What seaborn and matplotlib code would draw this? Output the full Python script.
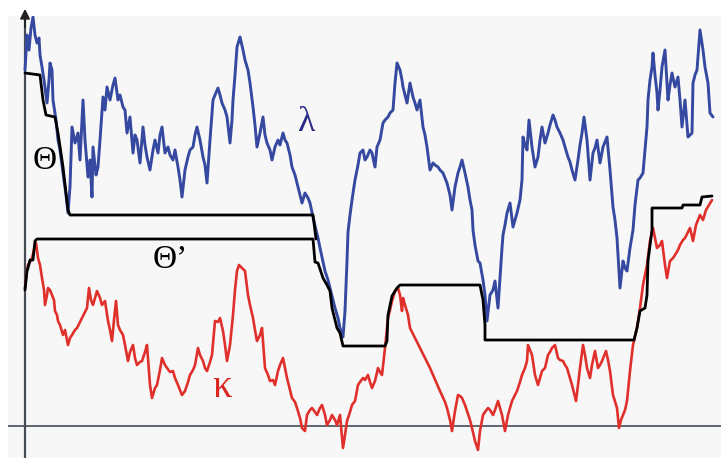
import numpy as np
import pandas as pd
import matplotlib
matplotlib.use('Agg')
import matplotlib.pyplot as plt
import seaborn as sns

# lambda path (x, level) -- level grows downward as in the sketch
lam_pts = [(25, 70), (27, 35), (29, 50), (31, 28), (33, 17), (35, 35), (37, 43), (39, 38), (40, 55), (42, 67),
           (44, 80), (47, 103), (49, 80), (50, 63), (52, 70), (53, 100), (56, 120), (58, 140), (60, 150), (63, 173),
           (66, 195), (68, 213), (70, 187), (72, 127), (75, 143), (78, 133), (80, 160), (83, 100), (85, 140), (88, 177),
           (90, 160), (92, 197), (93, 147), (96, 175), (98, 167), (100, 140), (103, 97), (105, 110), (107, 87), (110, 100),
           (113, 85), (115, 78), (118, 100), (120, 95), (123, 107), (125, 110), (127, 133), (130, 117), (133, 153), (135, 135),
           (137, 140), (140, 163), (143, 127), (145, 145), (147, 157), (150, 170), (153, 150), (155, 140), (158, 153), (160, 135),
           (162, 127), (165, 153), (168, 147), (170, 155), (173, 160), (175, 150), (178, 167), (180, 180), (182, 197), (185, 170),
           (188, 157), (190, 150), (193, 147), (195, 135), (197, 127), (200, 140), (203, 157), (205, 165), (207, 183), (210, 140),
           (213, 100), (215, 95), (218, 88), (220, 95), (222, 103), (225, 110), (227, 117), (230, 143), (232, 120), (233, 100),
           (235, 75), (237, 47), (240, 37), (243, 50), (245, 60), (248, 70), (250, 83), (253, 107), (255, 125), (257, 147),
           (260, 133), (263, 117), (265, 135), (267, 143), (270, 150), (272, 160), (275, 147), (278, 140), (280, 145), (283, 133),
           (285, 140), (287, 143), (290, 155), (292, 167), (295, 175), (297, 183), (300, 195), (302, 203), (305, 193), (308, 198),
           (310, 203), (313, 217), (316, 230), (318, 238), (320, 248), (323, 262), (325, 271), (328, 280), (330, 288), (333, 300),
           (335, 308), (338, 318), (340, 328), (343, 337), (345, 311), (347, 261), (348, 232), (350, 215), (352, 200), (355, 180),
           (358, 165), (360, 153), (363, 150), (365, 160), (367, 157), (370, 150), (372, 153), (375, 167), (377, 147), (380, 140),
           (383, 123), (385, 120), (388, 117), (390, 113), (393, 110), (395, 83), (397, 63), (400, 70), (402, 80), (403, 87),
           (405, 95), (407, 103), (410, 83), (413, 97), (415, 103), (417, 110), (420, 100), (423, 127), (425, 135), (427, 147),
           (430, 170), (433, 163), (435, 165), (438, 167), (440, 170), (443, 173), (445, 178), (447, 183), (450, 195), (452, 210),
           (455, 187), (458, 173), (460, 167), (462, 160), (465, 173), (468, 187), (470, 200), (472, 210), (473, 230), (475, 245),
           (478, 261), (480, 263), (483, 280), (485, 295), (487, 321), (490, 295), (493, 290), (495, 281), (498, 308), (500, 278),
           (502, 248), (503, 235), (505, 225), (507, 213), (510, 203), (513, 227), (515, 220), (517, 213), (520, 200), (522, 180),
           (523, 137), (525, 145), (527, 150), (529, 120), (532, 147), (535, 167), (538, 157), (540, 140), (542, 127), (545, 143),
           (548, 133), (550, 125), (553, 115), (555, 120), (557, 127), (560, 133), (563, 140), (565, 147), (568, 157), (570, 162),
           (572, 170), (575, 180), (578, 160), (580, 145), (582, 133), (584, 117), (587, 140), (590, 180), (593, 153), (595, 148),
           (597, 140), (600, 163), (603, 147), (605, 142), (607, 137), (610, 170), (613, 207), (615, 220), (617, 238), (620, 288),
           (623, 261), (625, 268), (627, 271), (630, 248), (633, 230), (635, 205), (638, 180), (640, 178), (643, 173), (645, 150),
           (647, 127), (648, 100), (650, 80), (652, 67), (653, 53), (655, 75), (657, 93), (658, 110), (660, 90), (662, 67),
           (665, 50), (668, 100), (670, 85), (672, 73), (675, 87), (678, 77), (680, 100), (682, 127), (685, 100), (688, 137),
           (690, 135), (692, 133), (693, 83), (695, 75), (697, 70), (700, 30), (703, 50), (705, 67), (708, 83), (710, 113),
           (713, 117)]

# kappa path
kap_pts = [(25, 288), (27, 270), (28, 265), (30, 262), (32, 258), (34, 250), (36, 243), (38, 258), (40, 265), (42, 278),
           (44, 290), (45, 305), (47, 295), (48, 288), (50, 290), (52, 295), (54, 300), (55, 311), (57, 315), (58, 321),
           (60, 325), (63, 335), (65, 330), (68, 345), (70, 338), (72, 335), (75, 330), (77, 328), (80, 322), (82, 318),
           (85, 312), (87, 308), (89, 288), (91, 300), (93, 305), (95, 298), (97, 291), (100, 298), (102, 305), (105, 301),
           (108, 321), (110, 330), (112, 341), (114, 320), (116, 301), (118, 325), (120, 330), (123, 335), (125, 345), (128, 361),
           (130, 352), (133, 345), (135, 358), (137, 365), (140, 362), (142, 361), (145, 352), (147, 345), (150, 385), (152, 398),
           (155, 388), (157, 385), (160, 370), (162, 358), (165, 365), (167, 368), (170, 372), (173, 371), (175, 378), (178, 385),
           (180, 390), (182, 395), (185, 391), (188, 382), (190, 375), (193, 370), (195, 365), (198, 348), (200, 355), (203, 361),
           (205, 368), (207, 371), (210, 362), (212, 355), (215, 321), (218, 322), (220, 318), (223, 331), (225, 345), (227, 361),
           (230, 345), (233, 315), (235, 290), (237, 271), (239, 265), (242, 268), (245, 271), (248, 295), (250, 305), (253, 318),
           (255, 330), (257, 341), (260, 335), (262, 328), (265, 368), (268, 375), (270, 381), (273, 380), (275, 385), (278, 371),
           (280, 365), (283, 358), (285, 368), (287, 378), (290, 390), (292, 398), (295, 402), (297, 408), (300, 418), (302, 428),
           (305, 431), (307, 415), (310, 410), (312, 408), (315, 412), (317, 415), (320, 408), (322, 405), (325, 415), (327, 425),
           (330, 420), (332, 415), (335, 420), (337, 425), (340, 415), (343, 448), (345, 435), (347, 421), (350, 412), (352, 405),
           (355, 401), (358, 385), (360, 382), (363, 378), (365, 380), (368, 375), (370, 382), (372, 388), (375, 381), (378, 368),
           (380, 372), (382, 375), (385, 348), (388, 318), (390, 310), (392, 301), (395, 291), (398, 288), (400, 295), (402, 311),
           (403, 298), (405, 305), (408, 315), (410, 328), (420, 348), (430, 368), (440, 391), (445, 402), (447, 408), (450, 420),
           (452, 431), (455, 411), (458, 395), (460, 396), (462, 398), (465, 405), (467, 411), (470, 420), (472, 428), (475, 441),
           (478, 450), (480, 431), (483, 415), (485, 412), (488, 408), (490, 410), (493, 415), (495, 410), (498, 401), (500, 408),
           (502, 415), (505, 431), (508, 415), (510, 408), (512, 401), (515, 395), (517, 391), (520, 382), (522, 375), (525, 368),
           (527, 361), (528, 345), (530, 350), (532, 355), (535, 375), (538, 385), (540, 378), (542, 371), (545, 368), (548, 355),
           (550, 352), (552, 348), (555, 345), (558, 358), (560, 360), (563, 361), (565, 365), (567, 368), (570, 378), (572, 385),
           (574, 393), (576, 401), (578, 385), (580, 368), (583, 345), (585, 355), (587, 368), (590, 378), (592, 365), (595, 351),
           (598, 368), (600, 365), (602, 361), (604, 356), (606, 351), (608, 360), (610, 371), (613, 395), (617, 408), (619, 428),
           (621, 420), (623, 415), (625, 410), (627, 401), (630, 371), (633, 345), (637, 328), (640, 308), (643, 285), (647, 265),
           (650, 241), (653, 228), (655, 238), (657, 248), (660, 245), (662, 241), (665, 265), (667, 278), (670, 261), (673, 258),
           (675, 255), (678, 250), (680, 245), (683, 240), (685, 238), (688, 232), (690, 228), (693, 241), (696, 225), (700, 215),
           (703, 220), (706, 210), (709, 205), (712, 200)]

# running minimum of lambda (Theta) and the joined step path (Theta')
theta_pts = [(25, 73), (40, 75), (43, 100), (46, 115), (55, 117), (58, 133), (63, 167), (68, 210), (70, 215),
             (313, 215), (316, 239)]
theta2_pts = [(25, 290), (27, 271), (28, 268), (30, 260), (33, 260), (35, 241), (37, 239), (313, 239), (315, 262),
              (318, 263), (323, 278), (327, 285), (330, 291), (332, 308), (337, 328), (340, 333), (343, 346), (385, 346),
              (387, 341), (388, 315), (392, 296), (397, 288), (400, 285), (480, 285), (483, 300), (485, 325), (485, 340),
              (634, 340), (637, 328), (640, 311), (645, 308), (647, 295), (648, 261), (652, 230), (652, 208), (682, 208),
              (683, 205), (700, 205), (702, 197), (712, 196)]

BLUE = '#3549a0'
RED = '#e0302c'

sns.set_style('white')
fig = plt.figure(figsize=(7.21, 4.58), dpi=100)
fig.patch.set_facecolor('white')
ax = fig.add_axes([8 / 721, 0, 713 / 721, 442 / 458])
ax.set_facecolor('#f7f7f7')


def draw(pts, color, lw, z):
    df = pd.DataFrame(pts, columns=['x', 'y'])
    sns.lineplot(data=df, x='x', y='y', sort=False, estimator=None, color=color,
                 linewidth=lw, ax=ax, zorder=z)


draw(kap_pts, RED, 1.9, 3)
draw(lam_pts, BLUE, 2.1, 4)
draw(theta_pts, 'black', 2.0, 5)
draw(theta2_pts, 'black', 2.0, 5)

# axes of the sketch
ax.axhline(426, color='#454c55', lw=1.2, zorder=2)
ax.axvline(25, color='#454c55', lw=1.6, zorder=2)
ax.annotate('', xy=(25, 6), xytext=(25, 30),
            arrowprops=dict(arrowstyle='-|>', color='#222222', lw=1.4, mutation_scale=14),
            annotation_clip=False, zorder=6)

serif = ['Liberation Serif', 'DejaVu Serif']
ax.text(45, 161, 'Θ', fontsize=24, family=serif, ha='center', va='center', color='black', zorder=6)
ax.text(170, 260, 'Θ’', fontsize=24, family=serif, ha='center', va='center', color='black', zorder=6)
ax.text(307, 123, 'λ', fontsize=26, family=serif, ha='center', va='center', color='#2a2a86', zorder=6)
ax.text(222, 388, 'κ', fontsize=28, family=serif, ha='center', va='center', color='#d8281f', zorder=6)

ax.set_xlim(8, 721)
ax.set_ylim(458, 16)
ax.set_xlabel('')
ax.set_ylabel('')
ax.set_xticks([])
ax.set_yticks([])
for s in ax.spines.values():
    s.set_visible(False)

fig.savefig('out.png', dpi=100)
